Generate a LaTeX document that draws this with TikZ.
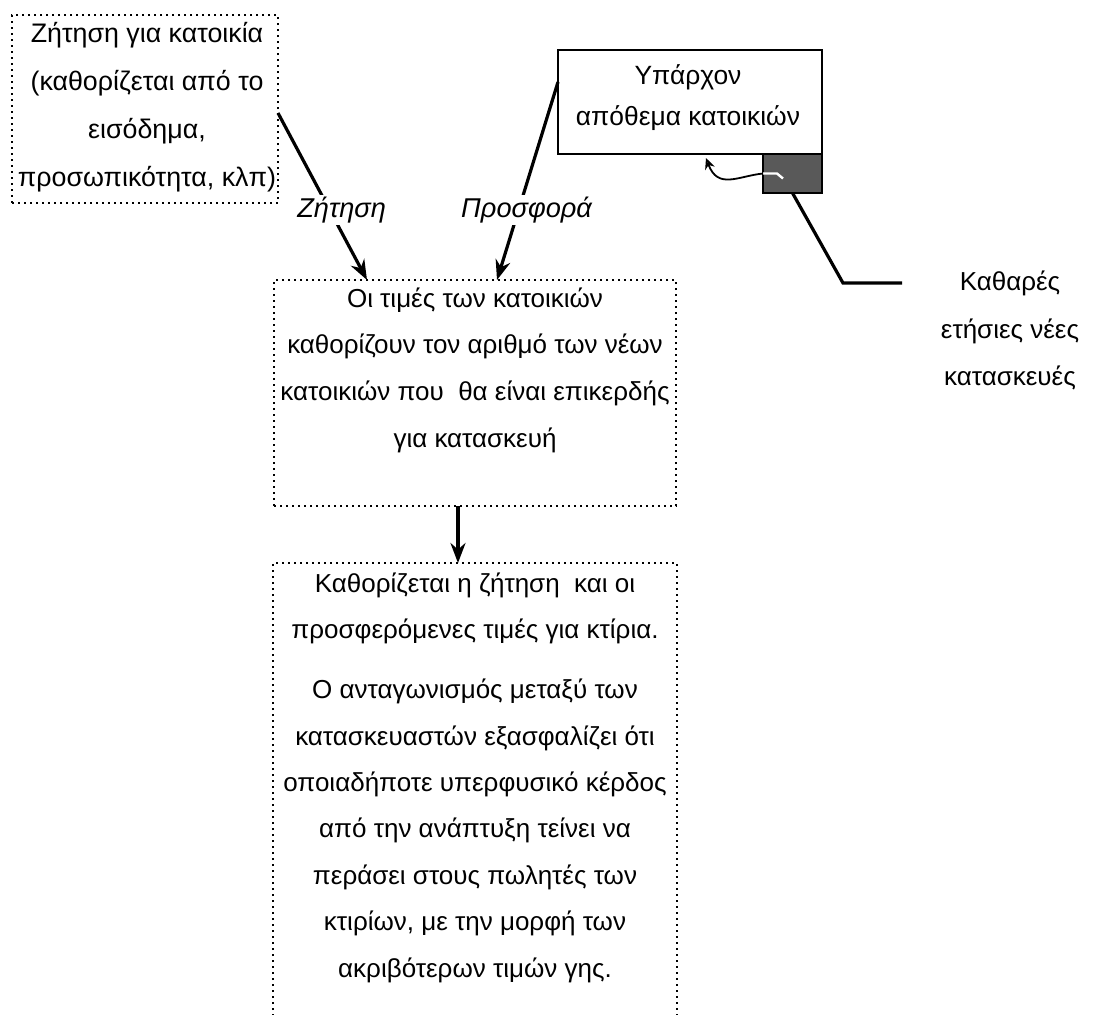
\documentclass[tikz,border=0pt]{standalone}
\usepackage{fontspec}
\setmainfont{Liberation Sans}
\usetikzlibrary{arrows.meta}
\begin{document}
\begin{tikzpicture}[x=0.5pt,y=-0.5pt,
  dotbox/.style={draw, dash pattern=on 1pt off 2pt, line width=1.1pt},
  plainbox/.style={draw=none, inner sep=0pt, outer sep=0pt},
  arrowline/.style={line width=1.6pt, -{Stealth[length=10pt,width=7.5pt,fill=gray!55]}},
  txt/.style={align=center, inner sep=0pt},
  lbl/.style={fill=white, inner sep=1pt, font=\fontsize{13.6}{16}\selectfont\itshape},
]
\useasboundingbox (0,0) rectangle (1093,1014);

% boxes
\node[dotbox, inner sep=0pt, outer sep=0pt, minimum width=133pt, minimum height=94pt] (A) at (145,109) {};
\node[txt, font=\fontsize{13.4}{24}\selectfont] (Atext) at (147,107)
  {Ζήτηση για κατοικία\\(καθορίζεται από το\\εισόδημα,\\προσωπικότητα, κλπ)};

\node[dotbox, inner sep=0pt, outer sep=0pt, minimum width=201pt, minimum height=113pt] (B) at (475,393) {};
\node[txt, font=\fontsize{13}{23.3}\selectfont] (Btext) at (475,370)
  {Οι τιμές των κατοικιών\\καθορίζουν τον αριθμό των νέων\\κατοικιών που\ \ θα είναι επικερδής\\για κατασκευή};

\node[plainbox, minimum width=202pt, minimum height=226.5pt] (D) at (475,789.5) {};
\draw[dotbox] (D.south west) -- (D.north west) -- (D.north east) -- (D.south east);
\node[txt, font=\fontsize{13}{23.2}\selectfont] (Dtext) at (475,777.5)
  {Καθορίζεται η ζήτηση\ \ και οι\\προσφερόμενες τιμές για κτίρια.\\[6.8pt]
   Ο ανταγωνισμός μεταξύ των\\κατασκευαστών εξασφαλίζει ότι\\οποιαδήποτε υπερφυσικό κέρδος\\
   από την ανάπτυξη τείνει να\\περάσει στους πωλητές των\\κτιρίων, με την μορφή των\\ακριβότερων τιμών γης.};

\node[draw, line width=1.1pt, inner sep=0pt, outer sep=0pt, minimum width=132pt, minimum height=52pt] (C) at (690,102) {};
\node[txt, font=\fontsize{13.2}{20.5}\selectfont] (Ctext) at (688,97.5)
  {Υπάρχον\\απόθεμα κατοικιών};
\node[draw, line width=0.8pt, fill=black!65, inner sep=0pt, outer sep=0pt, minimum width=29.5pt, minimum height=19.5pt] (R) at (792.5,173.5) {};
\draw[white, line width=1.2pt] (R.west) -- ++(14,0) -- ++(6,5);

\node[txt, font=\fontsize{13}{23.75}\selectfont] (E) at (1010,330.5)
  {Καθαρές\\ετήσιες νέες\\κατασκευές};

% connectors
\draw[arrowline] ([yshift=-2pt]A.east) -- node[lbl, pos=0.58, xshift=6pt] (Lz) {Ζήτηση} ([xshift=-54pt]B.north);
\draw[arrowline] ([yshift=10pt]C.west) -- node[lbl, pos=0.646, xshift=4pt] (Lp) {Προσφορά} ([xshift=11pt]B.north);
\draw[arrowline] ([xshift=-8.5pt]B.south) -- ([xshift=-8.5pt]D.north);

\draw[line width=0.9pt, -{Stealth[length=5.5pt,width=5pt,fill=gray!55]}]
  (R.west) .. controls (738,176) and (718,190) .. ([xshift=8pt,yshift=-2pt]C.south);

\coordinate (K1) at (843,283);
\coordinate (K2) at (902,283);
\draw[line width=1.6pt] (R.south) -- (K1) -- (K2);
\end{tikzpicture}
\end{document}
